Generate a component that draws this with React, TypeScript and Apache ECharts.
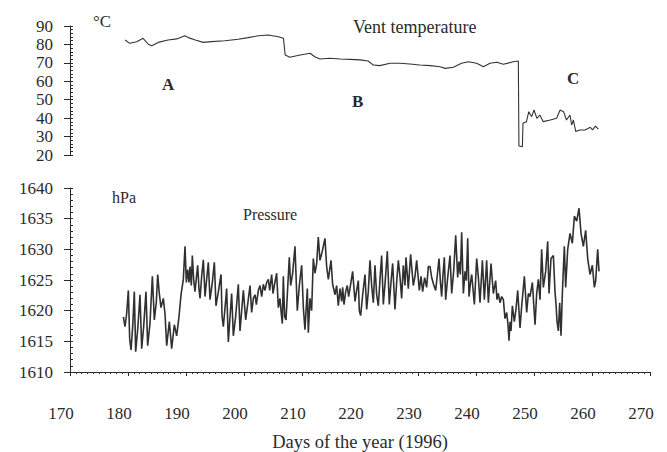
import { useEffect, useRef } from "react";
import * as echarts from "echarts";

const dayTicks = [170, 180, 190, 200, 210, 220, 230, 240, 250, 260, 270];
const tempTicks = [20, 30, 40, 50, 60, 70, 80, 90];
const pressureTicks = [1610, 1615, 1620, 1625, 1630, 1635, 1640];

// Vent temperature (°C) by day of year
const temperature: [number, number][] = [
  [179.5, 82.4], [180.3, 80.6], [181.5, 81.5], [182.6, 83.3], [183.5, 80.1], [184.1, 79.3],
  [185.2, 81.1], [186.9, 82.4], [188.4, 83.0], [189.8, 84.7], [190.4, 83.7], [191.6, 82.4],
  [193.0, 81.1], [194.4, 81.5], [196.7, 82.0], [199.0, 82.8], [200.7, 83.7], [202.5, 84.7],
  [204.2, 85.1], [205.9, 84.2], [206.8, 83.3], [207.1, 74.3], [207.9, 73.0], [209.7, 74.3],
  [211.4, 75.2], [212.2, 73.3], [213.1, 72.1], [214.8, 72.5], [216.6, 72.1], [218.3, 71.9],
  [220.0, 71.6], [221.4, 71.0], [222.3, 68.8], [223.4, 68.5], [225.2, 69.8], [226.9, 69.8],
  [228.6, 69.4], [230.3, 68.8], [232.1, 68.5], [233.8, 67.9], [234.7, 67.0], [236.1, 67.6],
  [237.5, 69.8], [238.7, 70.6], [240.1, 69.8], [241.3, 67.9], [242.4, 69.8], [243.6, 70.3],
  [244.7, 69.2], [246.4, 70.6], [247.3, 71.0], [247.4, 24.9], [248.0, 24.5], [248.1, 37.2],
  [248.7, 38.1], [249.1, 43.5], [249.6, 40.8], [250.0, 44.4], [250.5, 39.9], [251.0, 41.7],
  [251.6, 38.1], [252.8, 39.0], [253.9, 39.9], [254.5, 44.4], [255.1, 43.5], [255.6, 39.0],
  [256.2, 41.7], [256.5, 36.3], [256.8, 39.0], [257.2, 32.7], [257.9, 33.6], [258.8, 33.6],
  [259.7, 35.0], [260.1, 33.6], [260.6, 35.7], [261.1, 34.0],
];

// Pressure (hPa) by day of year
const pressure: [number, number][] = [
  [179.2, 1619.0], [179.48, 1617.4], [179.77, 1619.5], [180.06, 1623.3], [180.29, 1615.4],
  [180.52, 1613.6], [180.81, 1617.4], [181.09, 1623.1], [181.32, 1613.3], [181.67, 1616.9],
  [182.07, 1622.6], [182.36, 1613.8], [182.7, 1617.4], [183.1, 1623.1], [183.39, 1614.3],
  [183.79, 1617.9], [184.2, 1625.6], [184.54, 1618.5], [184.89, 1621.5], [185.12, 1625.9],
  [185.4, 1622.8], [185.69, 1620.5], [186.09, 1622.0], [186.38, 1619.5], [186.67, 1614.3],
  [187.13, 1618.2], [187.53, 1613.8], [187.99, 1617.7], [188.39, 1615.9], [188.79, 1619.0],
  [189.14, 1622.6], [189.54, 1625.1], [189.83, 1630.5], [190.06, 1624.6], [190.29, 1626.7],
  [190.52, 1624.6], [190.69, 1627.2], [190.92, 1624.1], [191.09, 1629.0], [191.32, 1625.1],
  [191.55, 1623.1], [192.01, 1627.4], [192.24, 1623.6], [192.42, 1622.0], [192.7, 1625.6],
  [192.99, 1628.3], [193.28, 1622.3], [193.56, 1625.1], [193.85, 1627.9], [194.14, 1621.8],
  [194.54, 1624.6], [194.89, 1627.9], [195.17, 1620.8], [195.58, 1623.1], [196.04, 1625.9],
  [196.21, 1619.2], [196.44, 1617.4], [196.73, 1620.5], [197.01, 1623.6], [197.3, 1614.9],
  [197.59, 1619.0], [197.87, 1622.8], [198.16, 1615.9], [198.56, 1619.0], [199.02, 1624.3],
  [199.31, 1616.7], [199.6, 1620.0], [199.89, 1623.3], [200.29, 1618.5], [200.63, 1621.0],
  [201.04, 1624.1], [201.32, 1619.7], [201.61, 1622.0], [201.9, 1622.6], [202.13, 1621.0],
  [202.47, 1623.3], [202.76, 1624.1], [203.05, 1622.3], [203.33, 1624.3], [203.62, 1623.3],
  [203.91, 1624.6], [204.2, 1625.1], [204.43, 1623.3], [204.77, 1625.9], [205.0, 1622.8],
  [205.23, 1624.1], [205.63, 1626.1], [205.92, 1620.5], [206.2, 1622.0], [206.43, 1619.5],
  [206.61, 1617.9], [206.78, 1625.6], [207.01, 1619.0], [207.24, 1618.5], [207.47, 1622.6],
  [207.81, 1628.7], [208.04, 1624.1], [208.39, 1626.1], [208.79, 1630.5], [209.19, 1620.0],
  [209.54, 1624.1], [209.94, 1627.4], [210.23, 1620.5], [210.51, 1616.9], [210.92, 1623.6],
  [211.09, 1616.4], [211.38, 1622.0], [211.66, 1620.0], [211.95, 1628.5], [212.24, 1626.1],
  [212.53, 1627.7], [212.81, 1632.0], [213.1, 1628.2], [213.5, 1629.7], [213.96, 1631.8],
  [214.25, 1627.2], [214.54, 1625.1], [215.0, 1628.2], [215.28, 1624.3], [215.69, 1622.6],
  [215.97, 1624.1], [216.26, 1620.8], [216.55, 1623.6], [216.84, 1621.5], [217.01, 1623.8],
  [217.24, 1621.0], [217.53, 1623.1], [217.81, 1624.1], [218.04, 1622.3], [218.27, 1623.6],
  [218.73, 1626.4], [219.14, 1621.5], [219.42, 1623.3], [219.71, 1624.9], [219.88, 1620.0],
  [220.11, 1619.2], [220.46, 1622.6], [220.86, 1625.9], [221.15, 1620.2], [221.43, 1623.1],
  [221.72, 1628.2], [222.01, 1624.1], [222.3, 1621.3], [222.58, 1627.4], [222.87, 1622.6],
  [223.16, 1620.8], [223.45, 1625.1], [223.73, 1629.0], [224.02, 1621.0], [224.37, 1625.1],
  [224.71, 1629.7], [225.05, 1621.0], [225.34, 1624.6], [225.63, 1627.7], [226.03, 1620.2],
  [226.32, 1624.6], [226.61, 1628.2], [226.89, 1625.6], [227.18, 1622.0], [227.47, 1627.4],
  [227.76, 1624.1], [227.93, 1628.7], [228.33, 1623.6], [228.73, 1629.2], [229.19, 1624.1],
  [229.48, 1625.6], [229.77, 1628.2], [230.23, 1623.3], [230.52, 1625.6], [230.8, 1623.1],
  [231.15, 1625.4], [231.49, 1623.8], [231.78, 1627.2], [232.07, 1627.2], [232.36, 1625.4],
  [232.65, 1624.4], [233.05, 1623.3], [233.34, 1625.9], [233.62, 1628.5], [233.85, 1624.9],
  [234.08, 1622.3], [234.31, 1625.9], [234.54, 1628.7], [234.77, 1621.8], [235.12, 1625.4],
  [235.52, 1629.0], [235.81, 1622.8], [236.15, 1626.4], [236.5, 1632.3], [236.84, 1625.4],
  [237.07, 1628.0], [237.3, 1625.9], [237.53, 1632.8], [237.82, 1622.8], [238.11, 1626.4],
  [238.34, 1624.9], [238.57, 1631.8], [238.8, 1622.3], [239.03, 1624.4], [239.26, 1625.9],
  [239.72, 1621.0], [240.12, 1628.5], [240.41, 1625.4], [240.69, 1621.3], [241.1, 1628.2],
  [241.44, 1621.8], [241.84, 1628.2], [242.13, 1621.3], [242.59, 1627.7], [242.99, 1622.8],
  [243.39, 1624.9], [243.62, 1621.8], [243.85, 1622.8], [244.14, 1621.3], [244.43, 1622.3],
  [244.72, 1621.8], [245.0, 1618.7], [245.29, 1619.7], [245.52, 1617.7], [245.69, 1615.1],
  [245.87, 1618.2], [246.04, 1616.7], [246.27, 1620.8], [246.61, 1618.2], [246.9, 1620.3],
  [247.19, 1623.3], [247.59, 1617.2], [247.88, 1620.8], [248.34, 1625.6], [248.74, 1619.7],
  [249.03, 1622.8], [249.31, 1622.3], [249.72, 1624.6], [250.18, 1617.7], [250.46, 1622.8],
  [250.75, 1625.1], [251.04, 1621.8], [251.32, 1630.0], [251.61, 1623.8], [252.01, 1626.4],
  [252.36, 1631.3], [252.59, 1622.8], [252.93, 1628.5], [253.34, 1629.0], [253.62, 1623.1],
  [253.8, 1621.0], [253.97, 1618.2], [254.2, 1616.7], [254.43, 1621.3], [254.66, 1615.9],
  [254.89, 1622.8], [255.23, 1630.5], [255.46, 1623.8], [255.81, 1630.0], [256.21, 1632.6],
  [256.61, 1631.0], [256.96, 1635.4], [257.36, 1634.6], [257.76, 1636.7], [258.11, 1632.6],
  [258.51, 1630.5], [258.91, 1633.1], [259.26, 1628.5], [259.66, 1625.9], [260.06, 1627.4],
  [260.41, 1623.8], [260.64, 1624.9], [260.98, 1630.0], [261.21, 1626.4],
];

const FONT = '"Liberation Serif", "DejaVu Serif", "Times New Roman", serif';
const INK = "#2b2b2b";

export default function App() {
  const ref = useRef<HTMLDivElement>(null);

  useEffect(() => {
    if (!ref.current) return;
    const chart = echarts.init(ref.current, undefined, { renderer: "svg" });

    const yLabel = {
      fontFamily: FONT,
      fontSize: 17,
      color: INK,
      margin: 17,
      formatter: (v: number) => String(v),
    };
    const baseX = {
      type: "value" as const,
      min: dayTicks[0],
      max: dayTicks[dayTicks.length - 1],
      interval: 10,
      splitLine: { show: false },
    };

    const tickAxis = (gridIndex: number, ticks: number[], minorSplit: number) => ({
      type: "value" as const,
      gridIndex,
      min: ticks[0],
      max: ticks[ticks.length - 1],
      interval: ticks[1] - ticks[0],
      position: "left" as const,
      axisLine: { show: false },
      axisLabel: { show: false },
      axisTick: { show: true, inside: true, length: 3, lineStyle: { color: INK } },
      minorTick: { show: true, splitNumber: minorSplit, length: 3, lineStyle: { color: INK } },
      splitLine: { show: false },
      minorSplitLine: { show: false },
    });

    chart.setOption({
      animation: false,
      backgroundColor: "#ffffff",
      grid: [
        { left: 70, width: 580, top: 26, height: 129 },
        { left: 70, width: 580, top: 188, height: 195 },
      ],
      xAxis: [
        { ...baseX, gridIndex: 0, show: false },
        {
          ...baseX,
          gridIndex: 1,
          axisLine: { show: true, lineStyle: { color: INK, width: 1 } },
          axisTick: { show: true, length: 4, lineStyle: { color: INK } },
          minorTick: { show: true, splitNumber: 10, length: 2, lineStyle: { color: INK } },
          axisLabel: {
            fontFamily: FONT,
            fontSize: 17,
            color: INK,
            margin: 33,
            padding: [0, 18, 0, 0],
            formatter: (v: number) => String(v),
          },
          name: "Days of the year (1996)",
          nameLocation: "middle",
          nameGap: 60,
          nameTextStyle: { fontFamily: FONT, fontSize: 18.5, color: INK },
        },
      ],
      yAxis: [
        {
          type: "value",
          gridIndex: 0,
          min: tempTicks[0],
          max: tempTicks[tempTicks.length - 1],
          interval: 10,
          axisLine: { show: true, lineStyle: { color: INK } },
          axisTick: { show: true, length: 6, lineStyle: { color: INK } },
          axisLabel: yLabel,
          splitLine: { show: false },
        },
        tickAxis(0, tempTicks, 5),
        {
          type: "value",
          gridIndex: 1,
          min: pressureTicks[0],
          max: pressureTicks[pressureTicks.length - 1],
          interval: 5,
          axisLine: { show: true, lineStyle: { color: INK } },
          axisTick: { show: true, length: 6, lineStyle: { color: INK } },
          axisLabel: yLabel,
          splitLine: { show: false },
        },
        tickAxis(1, pressureTicks, 5),
      ],
      series: [
        {
          type: "line",
          xAxisIndex: 0,
          yAxisIndex: 0,
          data: temperature,
          showSymbol: false,
          lineStyle: { color: "#333333", width: 1.1 },
        },
        {
          type: "line",
          xAxisIndex: 1,
          yAxisIndex: 2,
          data: pressure,
          showSymbol: false,
          lineStyle: { color: "#303030", width: 1.6 },
        },
      ],
      graphic: [
        { type: "text", x: 93, y: 21, style: { text: "°C", fontFamily: FONT, fontSize: 17, fill: INK, align: "left", verticalAlign: "middle" } },
        { type: "text", x: 353, y: 27, style: { text: "Vent temperature", fontFamily: FONT, fontSize: 18, fill: INK, align: "left", verticalAlign: "middle" } },
        { type: "text", x: 162, y: 84, style: { text: "A", fontFamily: FONT, fontSize: 17, fontWeight: "bold", fill: INK, align: "left", verticalAlign: "middle" } },
        { type: "text", x: 352, y: 101, style: { text: "B", fontFamily: FONT, fontSize: 17, fontWeight: "bold", fill: INK, align: "left", verticalAlign: "middle" } },
        { type: "text", x: 567, y: 78, style: { text: "C", fontFamily: FONT, fontSize: 17, fontWeight: "bold", fill: INK, align: "left", verticalAlign: "middle" } },
        { type: "text", x: 112, y: 197, style: { text: "hPa", fontFamily: FONT, fontSize: 16, fill: INK, align: "left", verticalAlign: "middle" } },
        { type: "text", x: 243, y: 214, style: { text: "Pressure", fontFamily: FONT, fontSize: 16, fill: INK, align: "left", verticalAlign: "middle" } },
      ],
    });

    return () => chart.dispose();
  }, []);

  return (
    <div
      ref={ref}
      style={{ position: "fixed", left: 0, top: 0, width: 667, height: 452, background: "#fff" }}
    />
  );
}
